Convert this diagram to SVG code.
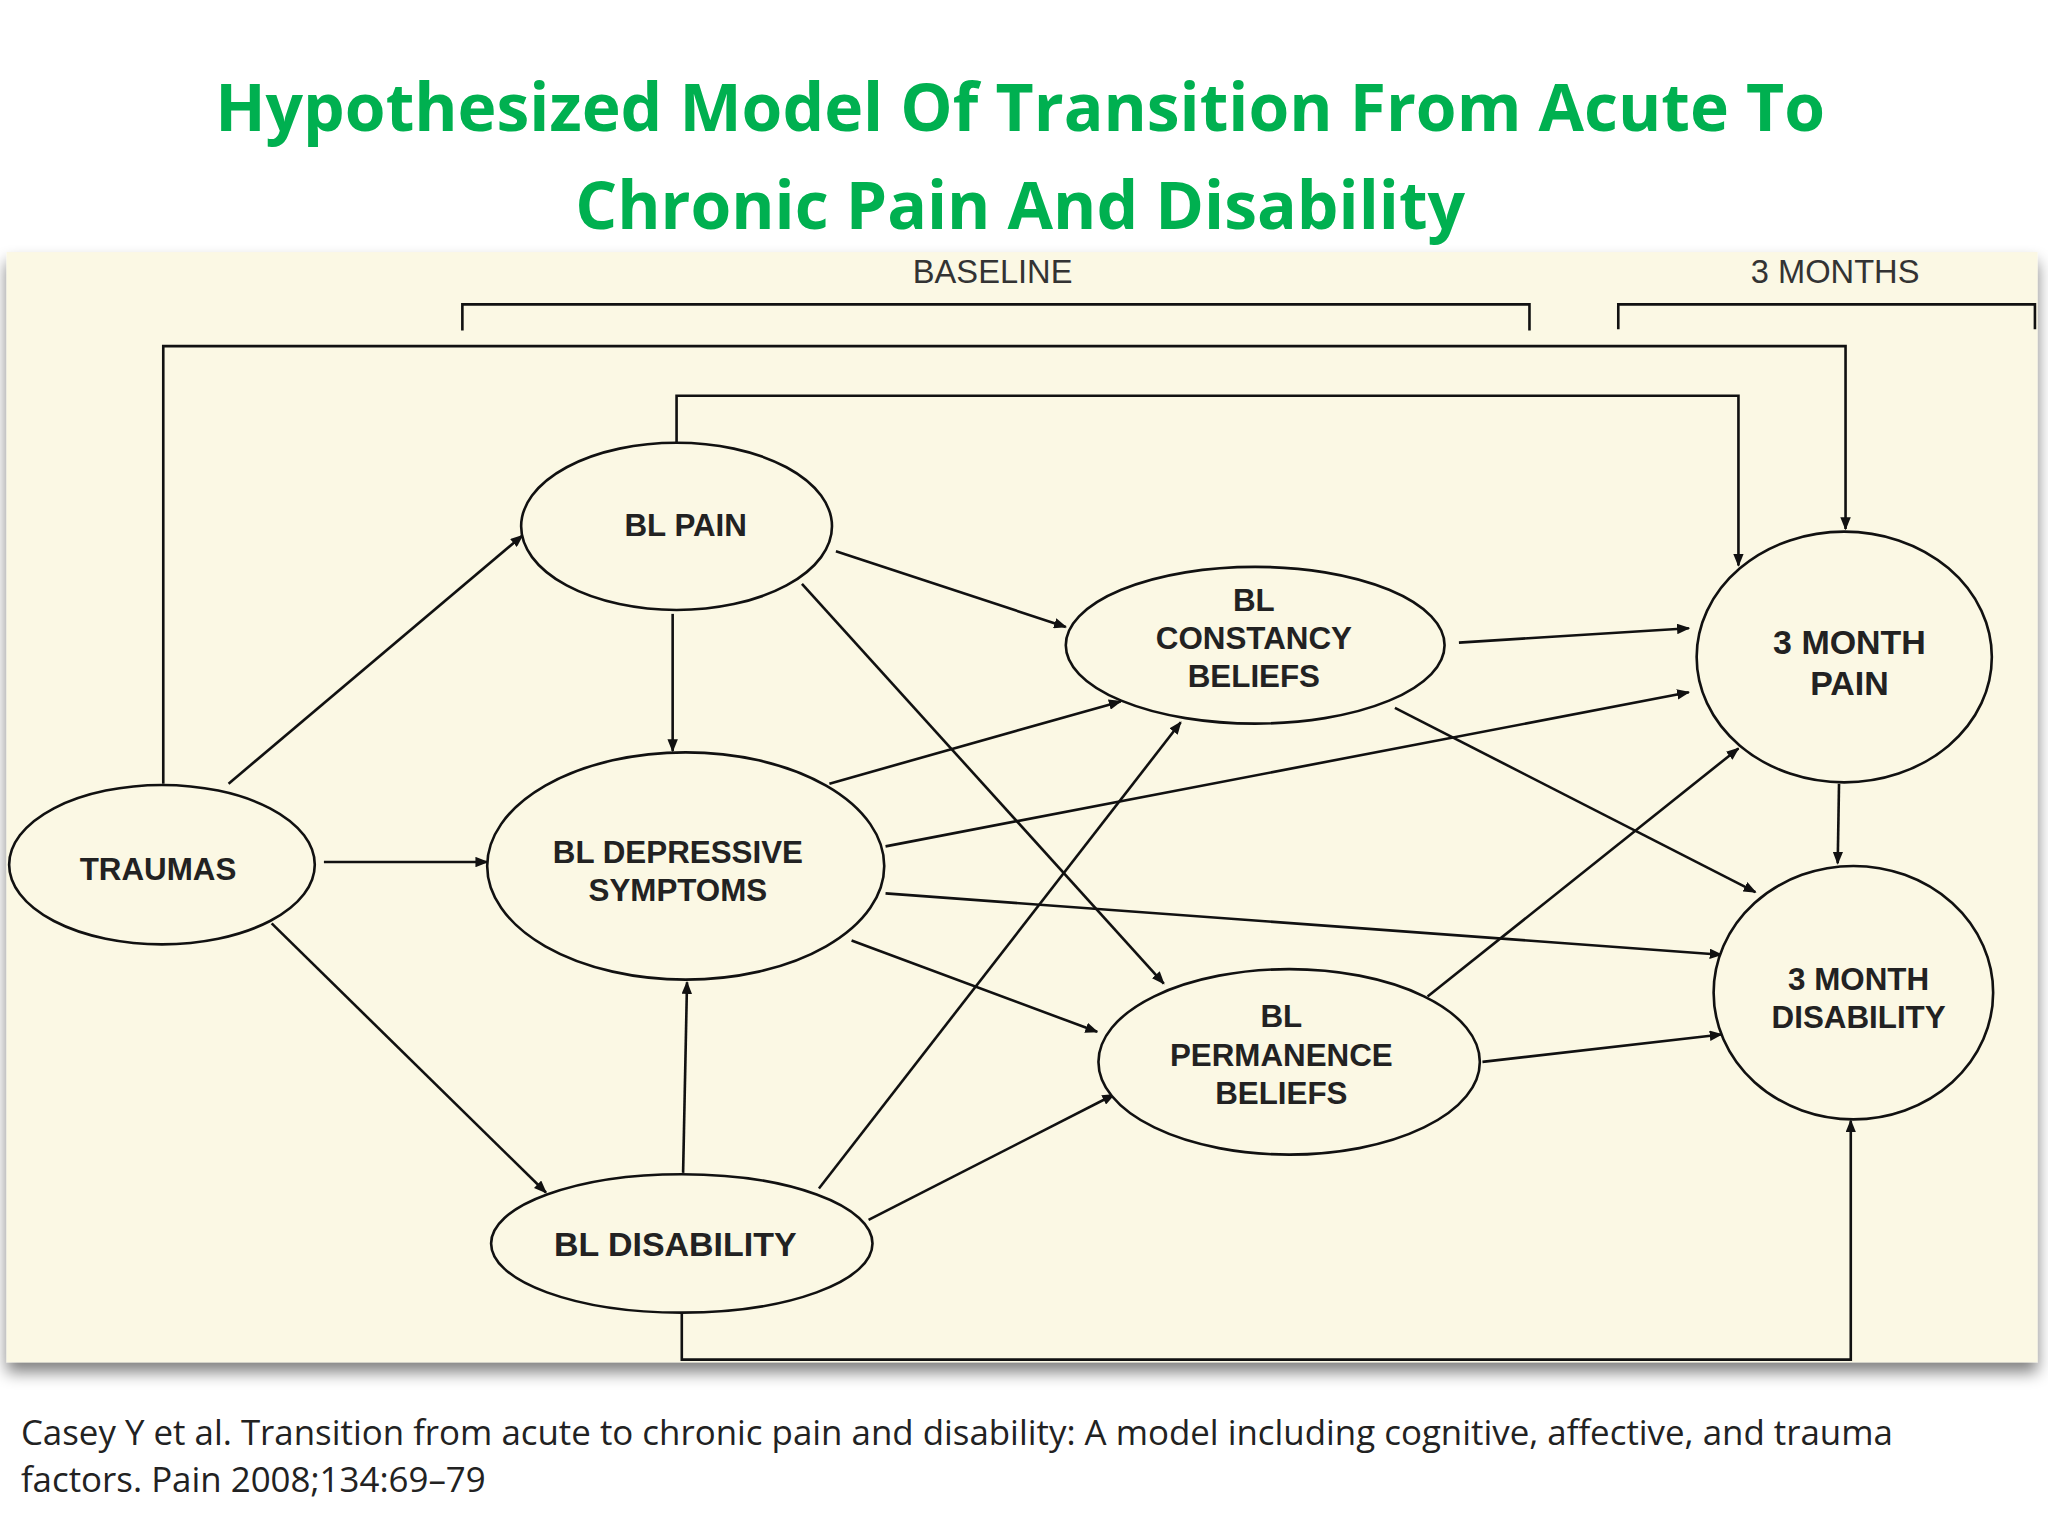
<svg xmlns="http://www.w3.org/2000/svg" width="2048" height="1536" viewBox="0 0 2048 1536">
<defs>
<marker id="ah" markerWidth="10" markerHeight="8" refX="9" refY="4" orient="auto" markerUnits="userSpaceOnUse"><path d="M0,0 L10,4 L0,8 z" fill="#111"/></marker>
<filter id="sh" x="-5%" y="-5%" width="110%" height="115%"><feGaussianBlur in="SourceAlpha" stdDeviation="6"/><feOffset dx="0" dy="8"/><feComponentTransfer><feFuncA type="linear" slope="0.5"/></feComponentTransfer><feMerge><feMergeNode/><feMergeNode in="SourceGraphic"/></feMerge></filter>
</defs>
<style>
.title{font-family:"Open Sans","Noto Sans",sans-serif;font-weight:bold;font-size:50.5px;fill:#00B050;text-anchor:middle}
.n{fill:#FBF8E4;stroke:#111;stroke-width:2}
.t{font-family:"Liberation Sans",Arial,sans-serif;font-weight:bold;font-size:24px;fill:#222;text-anchor:middle}
.h{font-family:"Liberation Sans",Arial,sans-serif;font-size:25px;fill:#333;text-anchor:middle}
.c{fill:none;stroke:#111;stroke-width:2;marker-end:url(#ah)}
.b{fill:none;stroke:#111;stroke-width:2}
.cap{font-family:"Open Sans","Noto Sans",sans-serif;font-size:26.7px;fill:#222}
</style>
<rect width="2048" height="1536" fill="#fff"/>
<g transform="scale(1.30612)">
<text class="title" x="781" y="100">Hypothesized Model Of Transition From Acute To</text>
<text class="title" x="781" y="175">Chronic Pain And Disability</text>
<rect x="5" y="193" width="1555" height="850" fill="#FBF8E4" filter="url(#sh)"/>
<text class="h" x="760" y="217">BASELINE</text>
<text class="h" x="1405" y="217">3 MONTHS</text>
<path class="b" d="M354,253 V233 H1171 V253 M1239,252 V233 H1558 V252"/>
<g id="connectors">
<path class="c" d="M125,600 V265 H1413 V405"/>
<path class="c" d="M518,339 V303 H1331 V433"/>
<path class="c" d="M522,1005 V1041 H1417 V858"/>
<path class="c" d="M175,600 L400,410"/>
<path class="c" d="M248,660 L373,660"/>
<path class="c" d="M208,707 L418,913"/>
<path class="c" d="M515,470 L515,575"/>
<path class="c" d="M640,422 L816,480"/>
<path class="c" d="M614,447 L891,753"/>
<path class="c" d="M635,600 L858,537"/>
<path class="c" d="M678,648 L1293,530"/>
<path class="c" d="M678,684 L1318,731"/>
<path class="c" d="M652,720 L840,790"/>
<path class="c" d="M523,898 L526,752"/>
<path class="c" d="M627,910 L904,553"/>
<path class="c" d="M665,934 L853,838"/>
<path class="c" d="M1117,492 L1293,481"/>
<path class="c" d="M1068,542 L1344,683"/>
<path class="c" d="M1093,763 L1331,573"/>
<path class="c" d="M1135,813 L1318,792"/>
<path class="c" d="M1408,600 L1407,661"/>
</g>
<g id="traumas"><ellipse class="n" cx="124" cy="662" rx="117" ry="61"/><text class="t" x="121" y="674">TRAUMAS</text></g>
<g id="blpain"><ellipse class="n" cx="518" cy="403" rx="119" ry="64"/><text class="t" x="525" y="410">BL PAIN</text></g>
<g id="bldep"><ellipse class="n" cx="525" cy="663" rx="152" ry="87"/><text class="t" x="519" y="661">BL DEPRESSIVE</text><text class="t" x="519" y="690">SYMPTOMS</text></g>
<g id="bldis"><ellipse class="n" cx="522" cy="952" rx="146" ry="53"/><text class="t" x="517" y="962" style="font-size:26px">BL DISABILITY</text></g>
<g id="blcon"><ellipse class="n" cx="961" cy="494" rx="145" ry="60"/><text class="t" x="960" y="468">BL</text><text class="t" x="960" y="497">CONSTANCY</text><text class="t" x="960" y="526">BELIEFS</text></g>
<g id="blperm"><ellipse class="n" cx="987" cy="813" rx="146" ry="71"/><text class="t" x="981" y="786">BL</text><text class="t" x="981" y="816">PERMANENCE</text><text class="t" x="981" y="845">BELIEFS</text></g>
<g id="m3pain"><ellipse class="n" cx="1412" cy="503" rx="113" ry="96"/><text class="t" x="1416" y="501" style="font-size:26px">3 MONTH</text><text class="t" x="1416" y="532" style="font-size:26px">PAIN</text></g>
<g id="m3dis"><ellipse class="n" cx="1419" cy="760" rx="107" ry="97"/><text class="t" x="1423" y="758">3 MONTH</text><text class="t" x="1423" y="787">DISABILITY</text></g>
<text class="cap" x="16" y="1106">Casey Y et al. Transition from acute to chronic pain and disability: A model including cognitive, affective, and trauma</text>
<text class="cap" x="16" y="1142">factors. Pain 2008;134:69–79</text>
</g>
</svg>
